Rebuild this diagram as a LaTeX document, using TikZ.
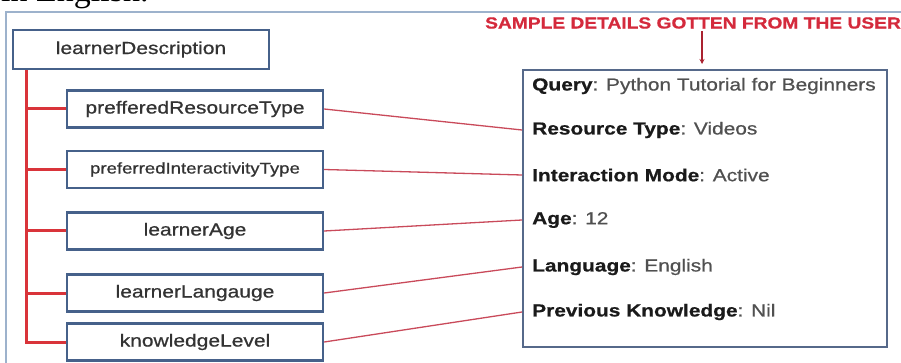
\documentclass[tikz,border=0pt]{standalone}
\usepackage{fontspec}
\usetikzlibrary{arrows.meta}
\setmainfont{Liberation Sans}
\newfontfamily\boxfont{Liberation Sans}[FakeStretch=1.2,FakeBold=0.7]
\newfontfamily\bodyserif{Liberation Serif}

\definecolor{boxblue}{HTML}{46618A}
\definecolor{panelblue}{HTML}{56698A}
\definecolor{trunkred}{HTML}{D9343A}
\definecolor{linkred}{HTML}{C94A5A}
\definecolor{titlered}{HTML}{D42A3C}
\definecolor{textgray}{HTML}{333333}
\definecolor{valgray}{HTML}{505050}
\definecolor{labelink}{HTML}{1A1A1A}
\definecolor{framecol}{HTML}{9DB2CC}

\newcommand\fieldlabel[1]{\textcolor{labelink}{\bfseries #1}}

\begin{document}
\begin{tikzpicture}[x=1pt,y=-1pt,
  field/.style={draw=boxblue, line width=2.4pt, fill=white,
    minimum width=256pt, minimum height=37pt, inner sep=0pt,
    text=textgray, font=\boxfont\fontsize{17.5}{20}\selectfont},
  row/.style={anchor=west, inner sep=0pt, text=valgray,
    font=\boxfont\fontsize{17.4}{20}\selectfont},
  trunk/.style={draw=trunkred, line width=3pt},
  link/.style={draw=linkred, line width=1.3pt},
  pointer/.style={draw=titlered!80!black, line width=1.2pt,
    -{Stealth[length=5pt,width=5pt]}, shorten <=2pt, shorten >=5pt},
  frameline/.style={draw=framecol, line width=1.6pt}]

\useasboundingbox (0,0) rectangle (901,363);

% running text above the figure, cut by the page edge
\begin{scope}
  \clip (0,0) rectangle (901,363);
  \node[anchor=base west, inner sep=0pt,
        font=\bodyserif\fontsize{34}{34}\selectfont] (lead) at (1,2) {in English.};
\end{scope}

% figure frame
\draw[frameline] (6,363) -- (6,12) -- (901,12);

% learner description tree
\node[field, minimum height=39pt] (desc) at (141,49.5) {learnerDescription};
\node[field] (prt)  at (195,109)   {prefferedResourceType};
\node[field, font=\boxfont\fontsize{15.5}{18}\selectfont] (pit) at (195,169.5) {preferredInteractivityType};
\node[field] (age)  at (195,231)   {learnerAge};
\node[field] (lang) at (195,293)   {learnerLangauge};
\node[field] (kl)   at (195,342)   {knowledgeLevel};

\coordinate (tr) at ([xshift=15pt]desc.south west);
\draw[trunk] (tr) |- (kl.west);
\foreach \c in {prt,pit,age,lang}
  \draw[trunk] (tr |- \c.west) -- (\c.west);

% sample details panel
\node[draw=panelblue, line width=2pt, fill=white, inner sep=0pt,
      minimum width=364pt, minimum height=277pt] (sample) at (705,208.5) {};
\node[row] (r1) at (532,86)  {\fieldlabel{Query}: Python Tutorial for Beginners};
\node[row] (r2) at (532,130) {\fieldlabel{Resource Type}: Videos};
\node[row] (r3) at (532,175) {\fieldlabel{Interaction Mode}: Active};
\node[row] (r4) at (532,220) {\fieldlabel{Age}: 12};
\node[row] (r5) at (532,267) {\fieldlabel{Language}: English};
\node[row] (r6) at (532,312) {\fieldlabel{Previous Knowledge}: Nil};

% mapping from fields to sample values
\draw[link] (prt.east)  -- (r2.west -| sample.west);
\draw[link] (pit.east)  -- (r3.west -| sample.west);
\draw[link] (age.east)  -- (r4.west -| sample.west);
\draw[link] (lang.east) -- (r5.west -| sample.west);
\draw[link] (kl.east)   -- (r6.west -| sample.west);

% heading with pointer to the panel
\node[inner sep=0pt, text=titlered,
      font=\boxfont\bfseries\fontsize{16}{18}\selectfont] (title) at (693,23)
      {SAMPLE DETAILS GOTTEN FROM THE USER};
\coordinate (ax) at (702,0);
\draw[pointer] (title.south -| ax) -- (sample.north -| ax);
\end{tikzpicture}
\end{document}
